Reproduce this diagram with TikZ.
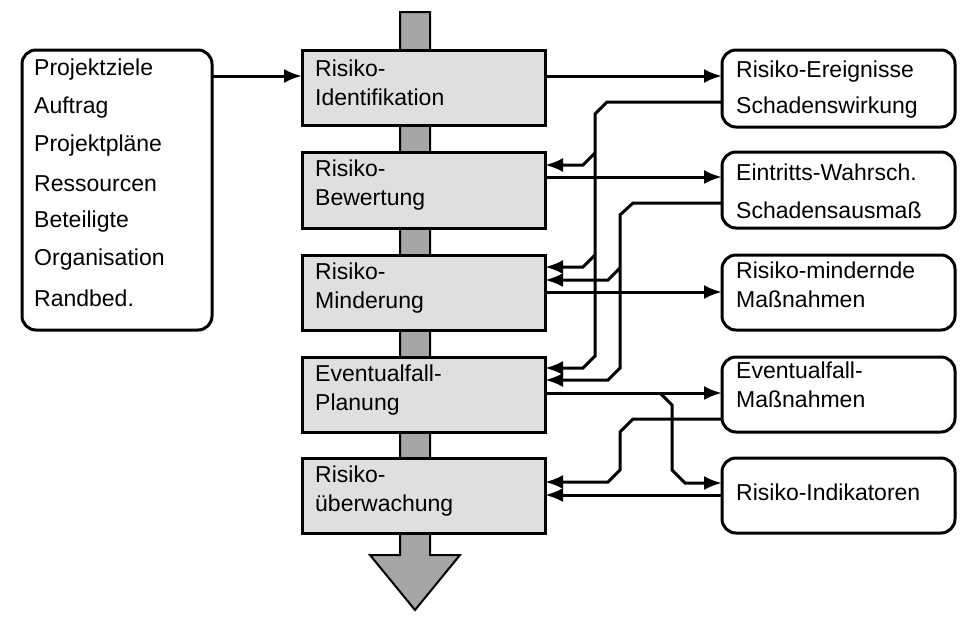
\documentclass[tikz,border=0pt]{standalone}
\usepackage{fontspec}
\setmainfont{Liberation Sans}
\usetikzlibrary{arrows.meta}
\begin{document}
\begin{tikzpicture}[x=1pt,y=-1pt,
  proc/.style={draw,line width=3pt,fill=gray!25},
  rbox/.style={draw,line width=3pt,rounded corners=14pt,fill=white},
  txt/.style={anchor=west,inner sep=0pt,font=\fontsize{23}{29}\selectfont},
  con/.style={line width=3pt,-{Latex[length=18pt,width=14pt]}},
  ln/.style={line width=3pt}]
\useasboundingbox (0,0) rectangle (975,630);
% spine
\draw[line width=2pt,fill=gray!70] (400,12) -- (430,12) -- (430,555) -- (460,555) -- (415,610) -- (370,555) -- (400,555) -- cycle;
% left box
\draw[rbox] (22,50) rectangle (212,330);
\coordinate (L) at (212,76);
\foreach \t [count=\i] in {Projektziele,Auftrag,Projektpläne,Ressourcen,Beteiligte,Organisation,Randbed.}
  \node[txt] at (34,70+38*\i-38) {\t};
% process boxes
\draw[proc] (302,50) rectangle (545,125); \node[txt,align=left] (p1) at (315,83) {Risiko-\\Identifikation};
\draw[proc] (302,152) rectangle (545,228); \node[txt,align=left] (p2) at (315,185) {Risiko-\\Bewertung};
\draw[proc] (302,255) rectangle (545,330); \node[txt,align=left] (p3) at (315,288) {Risiko-\\Minderung};
\draw[proc] (302,357) rectangle (545,432); \node[txt,align=left] (p4) at (315,390) {Eventualfall-\\Planung};
\draw[proc] (302,458) rectangle (545,533); \node[txt,align=left] (p5) at (315,491) {Risiko-\\überwachung};
% right boxes
\draw[rbox] (722,50) rectangle (955,127);
\node[txt] (r1a) at (736,72) {Risiko-Ereignisse}; \node[txt] (r1b) at (736,108) {Schadenswirkung};
\draw[rbox] (722,152) rectangle (955,228);
\node[txt] (r2a) at (736,172) {Eintritts-Wahrsch.}; \node[txt] (r2b) at (736,210) {Schadensausmaß};
\draw[rbox] (722,255) rectangle (955,330);
\node[txt,align=left] (r3) at (736,285) {Risiko-mindernde\\Maßnahmen};
\draw[rbox] (722,357) rectangle (955,432);
\node[txt,align=left] (r4) at (736,385) {Eventualfall-\\Maßnahmen};
\draw[rbox] (722,458) rectangle (955,533);
\node[txt] (r5) at (736,492) {Risiko-Indikatoren};
% connectors
\draw[con] (L) -- (302,76);
\draw[con] (545,76) -- (722,76);
\draw[con] (545,177) -- (722,177);
\draw[con] (545,292) -- (722,292);
\draw[con] (545,393) -- (722,393);
\draw[con] (660,393) -- (672,405) -- (672,470) -- (685,483) -- (722,483);
% Schadenswirkung feedback
\draw[ln] (722,102) -- (607,102) -- (595,114) -- (595,357);
\draw[con] (595,153) -- (583,165) -- (545,165);
\draw[con] (595,255) -- (583,267) -- (545,267);
\draw[con] (595,356) -- (583,368) -- (545,368);
% Schadensausmass feedback
\draw[ln] (722,203) -- (633,203) -- (620,215) -- (620,369);
\draw[con] (620,268) -- (608,280) -- (545,280);
\draw[con] (620,368) -- (608,380) -- (545,380);
% Eventualfall-Massnahmen feedback
\draw[con] (722,419) -- (633,419) -- (620,432) -- (620,470) -- (608,482) -- (545,482);
\draw[con] (722,495) -- (545,495);
\end{tikzpicture}
\end{document}
